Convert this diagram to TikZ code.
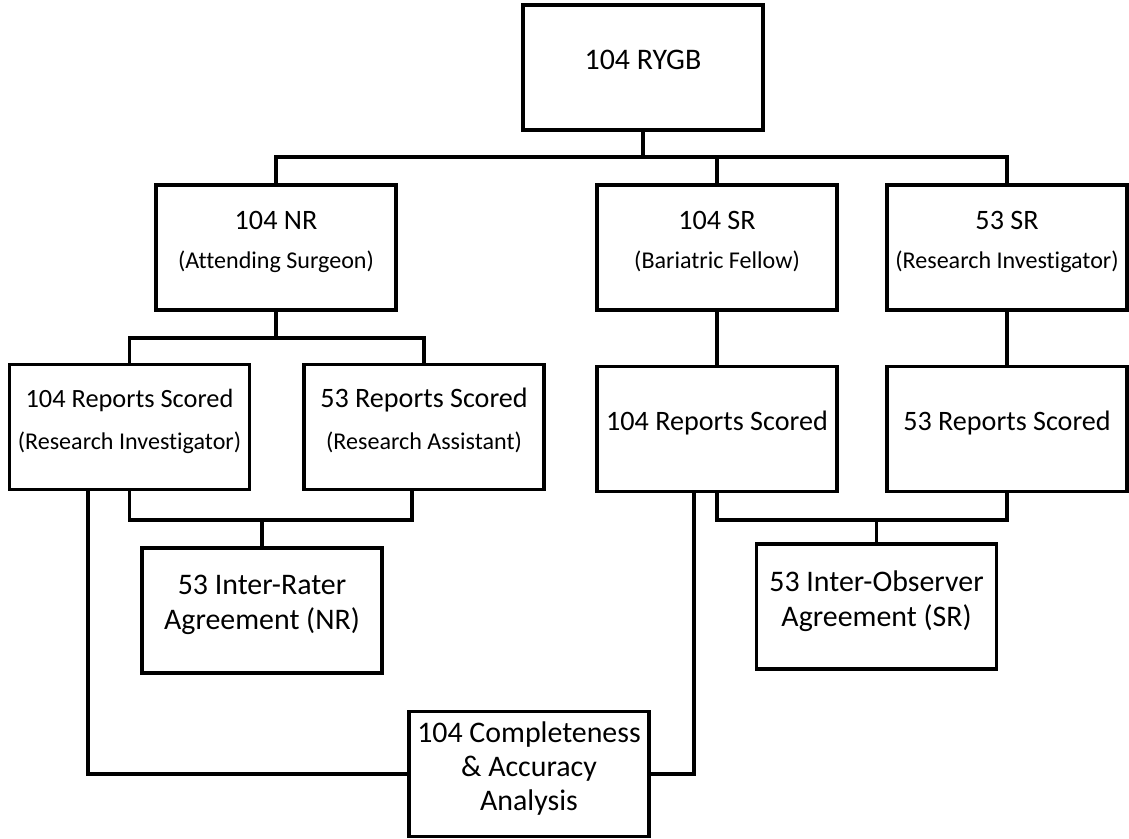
\documentclass[tikz,border=0pt]{standalone}
\usepackage{fontspec}
\setmainfont{Carlito}[Ligatures=NoCommon]
\usepackage{tikz}
\usetikzlibrary{positioning}

\newcommand{\roletxt}[1]{{\fontsize{13.7}{22}\selectfont #1}}

\begin{document}
\begin{tikzpicture}[node distance=3.6cm, auto, line width=1.9pt]
    \tikzset{box/.style={draw, rectangle, minimum width=4.8cm, minimum height=2.5cm, align=center, inner sep=2pt, text depth=9pt}}
    \useasboundingbox (0,0) rectangle (22.58,-16.76);

    \node (rygb) [box, font=\fontsize{17}{20}\selectfont] at (12.86,-1.35) {104 RYGB};
    \node (nr) [box, font=\fontsize{16}{22}\selectfont] at (5.52,-4.95) {104 NR\\\roletxt{(Attending Surgeon)}};
    \node (sr1) [box, right of=nr, node distance=8.82cm, font=\fontsize{16}{22}\selectfont] {104 SR\\\roletxt{(Bariatric Fellow)}};
    \node (sr2) [box, right of=sr1, node distance=5.8cm, font=\fontsize{16}{22}\selectfont] {53 SR\\\roletxt{(Research Investigator)}};
    \node (rs1) [box, font=\fontsize{15}{24}\selectfont] at (2.59,-8.54) {104 Reports Scored\\\roletxt{(Research Investigator)}};
    \node (rs2) [box, right of=rs1, node distance=5.89cm, font=\fontsize{16}{24}\selectfont] {53 Reports Scored\\\roletxt{(Research Assistant)}};
    \node (rs3) [box, below of=sr1, node distance=3.63cm, font=\fontsize{16}{20}\selectfont] {104 Reports Scored};
    \node (rs4) [box, below of=sr2, node distance=3.63cm, font=\fontsize{16}{20}\selectfont] {53 Reports Scored};
    \node (ira) [box, font=\fontsize{17}{20}\selectfont] at (5.24,-12.21) {53 Inter-Rater\\Agreement (NR)};
    \node (ioa) [box, font=\fontsize{17}{20}\selectfont] at (17.53,-12.13) {53 Inter-Observer\\Agreement (SR)};
    \node (caa) [box, font=\fontsize{17}{19.5}\selectfont] at (10.58,-15.48) {104 Completeness\\\& Accuracy\\Analysis};

    \coordinate (topbus) at (12.86,-3.14);
    \coordinate (nrbus) at (5.52,-6.76);
    \coordinate (irabus) at (5.24,-10.4);
    \coordinate (ioabus) at (17.53,-10.4);

    \draw (rygb) -- (topbus);
    \draw (nr.north) |- (topbus) -| (sr2.north);
    \draw (sr1.north) -- (sr1.north |- topbus);
    \draw (nr) -- (nrbus);
    \draw (rs1.north) |- (nrbus) -| (rs2.north);
    \draw (sr1) -- (rs3);
    \draw (sr2) -- (rs4);
    \draw (rs1.south) |- (irabus) -| ([xshift=-0.24cm]rs2.south);
    \draw (irabus) -- (ira);
    \draw (rs3.south) |- (ioabus) -| (rs4.south);
    \draw (ioabus) -- (ioa);
    \draw ([xshift=-0.83cm]rs1.south) |- (caa.west);
    \draw ([xshift=-0.46cm]rs3.south) |- (caa.east);
\end{tikzpicture}
\end{document}
